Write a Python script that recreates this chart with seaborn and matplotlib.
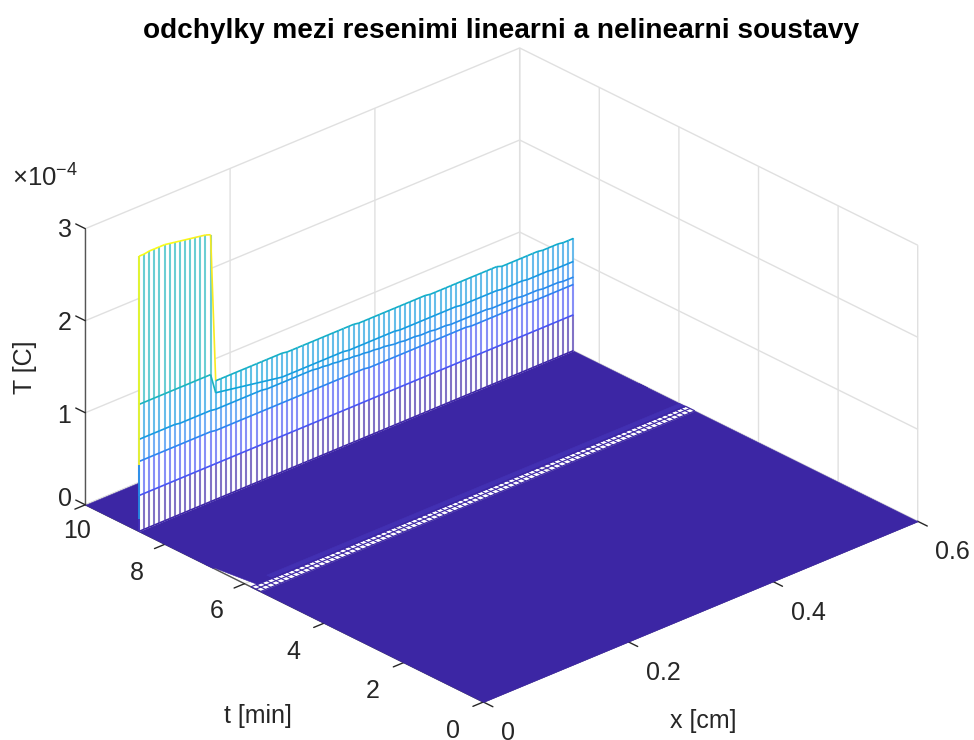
#!/usr/bin/python
"""Deviation between the linear and nonlinear solution, mesh view."""
import numpy as np
import matplotlib
matplotlib.use('Agg')
import matplotlib.pyplot as plt
from matplotlib.transforms import ScaledTranslation
import seaborn as sns
from mpl_toolkits.mplot3d.art3d import Line3DCollection

sns.set_theme(style='white')
plt.rcParams['font.family'] = ['Liberation Sans', 'DejaVu Sans']
plt.rcParams['mathtext.default'] = 'regular'

TEXT = '#262626'
GRID = '#e0e0e0'
FLOOR = '#3c26a4'
BAND = '#4230b2'

# axis ticks
x_ticks = [0, 0.2, 0.4, 0.6]
x_ticklabels = ['0', '0.2', '0.4', '0.6']
t_ticks = [0, 2, 4, 6, 8, 10]
z_ticks = [0, 1, 2, 3]

# mesh columns (86 vertical lines in the wall)
x_mesh = np.linspace(0, 0.6, 86)

# wall of the mesh at one time level, z in units of 1e-4
t_wall = 8.65
row_1 = [0.39] * 86
row_2 = [0.76] * 15 + [0.75] * 30 + [0.74] * 20 + [0.73] * 12 + [0.72] * 9
row_3 = ([1.00] * 8 + [0.99] * 7 + [0.98] * 10 + [0.97] * 10
         + [0.96, 0.96, 0.95, 0.95, 0.94, 0.94, 0.93, 0.93, 0.92, 0.92, 0.91, 0.91, 0.90, 0.90, 0.89, 0.88]
         + [0.88, 0.87, 0.87, 0.87, 0.86, 0.86, 0.86, 0.85, 0.85, 0.85, 0.84, 0.84]
         + [0.84] * 6 + [0.83] * 6 + [0.82] * 4 + [0.81] * 4 + [0.80] * 3)
row_4 = ([1.38] * 15
         + [1.16, 1.15, 1.14, 1.13, 1.12, 1.11, 1.10, 1.09, 1.08, 1.07, 1.06, 1.05, 1.04, 1.03]
         + [1.03] * 12 + [1.02] * 10 + [1.01] * 12 + [1.00] * 8 + [0.99] * 5 + [0.98] * 5 + [0.97] * 5)
row_top = ([2.99, 2.99, 3.00, 3.00, 3.00, 3.00, 2.99, 2.98, 2.97, 2.96, 2.95, 2.94, 2.93, 2.92, 2.90]
           + [1.29] * 14 + [1.28] * 14 + [1.27] * 14 + [1.26] * 14 + [1.24] * 8 + [1.23] * 4 + [1.22] * 3)
# side of the wall at x=0: heights and the level that colours each piece
side_z = [0.0, 0.13, 0.72, 2.99]
side_level = [0.1, 0.9, 3.0]

# flat parts of the surface
floor_low_t = [0.0, 5.6]
floor_mid_t = [5.84, 7.0]
floor_mid_x0 = [0.009, 0.0]
floor_high_t = [6.8, 10.0]
band_t = [5.84, 6.0]
stripe_t = [5.6, 5.72, 5.84]

parula = sns.blend_palette(['#3e26a8', '#4852f4', '#2c85f0', '#0aa5d8', '#22bcb0',
                            '#51c28c', '#adbe5c', '#f6b93f', '#f9fb15'], as_cmap=True)


# ----------------------------------------------------------------------------
def flat(ax, x0, x1, t, color, zorder):
    """Draw a flat piece of the surface at z=0."""
    X = np.column_stack((x0, x1))
    T = np.column_stack((t, t))
    ax.plot_surface(X, T, np.zeros_like(X), color=color, edgecolor=color, linewidth=0.4,
                    shade=False, zorder=zorder)


# ----------------------------------------------------------------------------
def wall(ax):
    """Draw the mesh wall, edges coloured by the lower vertex as in a mesh."""
    z = np.vstack((np.zeros(86), row_1, row_2, row_3, row_4, row_top))
    ax.fill_between(x_mesh, t_wall, 0 * x_mesh, x_mesh, t_wall, z[-1], color='white',
                    shade=False, linewidth=0, zorder=3)
    segs, levels = [], []
    for k in range(5):
        for j in range(86):
            segs.append([(x_mesh[j], t_wall, z[k, j]), (x_mesh[j], t_wall, z[k + 1, j])])
            levels.append(z[k, j])
    upright = Line3DCollection(segs, cmap=parula, linewidths=1.5, alpha=0.65, zorder=4)
    upright.set_array(np.array(levels))
    upright.set_clim(0, 3)
    ax.add_collection3d(upright)

    segs, levels = [], []
    for k in range(6):
        for j in range(85):
            segs.append([(x_mesh[j], t_wall, z[k, j]), (x_mesh[j + 1], t_wall, z[k, j + 1])])
            levels.append(z[k, j])
    for k in range(3):
        segs.append([(0, t_wall, side_z[k]), (0, t_wall, side_z[k + 1])])
        levels.append(side_level[k])
    rows = Line3DCollection(segs, cmap=parula, linewidths=1.2, zorder=5)
    rows.set_array(np.array(levels))
    rows.set_clim(0, 3)
    ax.add_collection3d(rows)


# ----------------------------------------------------------------------------
def stripe(ax):
    """Draw the fine mesh strip, white shows between its edges."""
    segs = []
    for t in stripe_t:
        segs.append([(x_mesh[0], t, 0), (x_mesh[-1], t, 0)])
    for x in x_mesh:
        segs.append([(x, stripe_t[0], 0), (x, stripe_t[-1], 0)])
    ax.add_collection3d(Line3DCollection(segs, colors=FLOOR, linewidths=0.8, zorder=2))


# ----------------------------------------------------------------------------
def nudge(fig, artist, dx, dy):
    """Shift a text by some pixels, dy counted downwards."""
    # Axis3D puts transData back on its texts at every draw, so wrap the getter
    shift = ScaledTranslation(dx / fig.dpi, -dy / fig.dpi, fig.dpi_scale_trans)
    artist.get_transform = lambda: artist._transform + shift


fig = plt.figure(figsize=(9.74, 7.40), dpi=100)
w = 960
ax = fig.add_axes([(501.5 - 0.5135 * w) / 974, (365.0 - 0.5135 * w) / 740, w / 974, w / 740],
                  projection='3d', computed_zorder=False, proj_type='ortho')
ax.view_init(elev=27, azim=-132.5)
ax.set_box_aspect((1, 1, 0.526), zoom=863 / w)

flat(ax, [0.0, 0.0], [0.6, 0.6], floor_low_t, FLOOR, 1)
flat(ax, floor_mid_x0, [0.6, 0.6], floor_mid_t, FLOOR, 1)
flat(ax, [0.0, 0.0], [0.6, 0.6], floor_high_t, FLOOR, 1)
flat(ax, [0.03, 0.03], [0.6, 0.6], band_t, BAND, 1.5)
stripe(ax)
wall(ax)

ax.set_xlim(0, 0.6)
ax.set_ylim(0, 10)
ax.set_zlim(0, 3)
ax.set_xticks(x_ticks, x_ticklabels)
ax.set_yticks(t_ticks)
ax.set_zticks(z_ticks)
ax.tick_params(colors=TEXT, labelsize=18)
ax.tick_params(axis='x', pad=8)
ax.tick_params(axis='y', pad=15)
ax.tick_params(axis='z', pad=-22)
# z ticks of the reference run along the time axis
ax.zaxis._get_tickdir = lambda pos: 1
for axis in (ax.xaxis, ax.yaxis, ax.zaxis):
    axis.set_pane_color((1, 1, 1, 1))
    axis.pane.set_edgecolor('white')
    axis.line.set_color('#555555')
    axis.line.set_linewidth(1.0)
    axis._axinfo['grid']['color'] = GRID
    axis._axinfo['grid']['linewidth'] = 1.0
    axis._axinfo['tick']['inward_factor'] = 0.3
    axis._axinfo['tick']['outward_factor'] = 0
    axis._axinfo['tick']['linewidth'] = {True: 1.0, False: 0.5}
    axis._axinfo['tick']['color'] = '#555555'
    axis.set_rotate_label(False)
ax.zaxis._axinfo['tick']['inward_factor'] = 0
ax.zaxis._axinfo['tick']['outward_factor'] = 0.3

for tick in ax.xaxis.get_major_ticks():
    tick.label1.set_ha('left')
    nudge(fig, tick.label1, 0, -2)
y_nudges = [(-3, -12), (-3, -13), (-3, -12), (0, -14), (0, -12), (20, -15)]
for tick, d in zip(ax.yaxis.get_major_ticks(), y_nudges):
    nudge(fig, tick.label1, d[0], d[1])
z_nudges = [(-53, -18), (-54, -9), (-53, -10), (-53, -11)]
for tick, d in zip(ax.zaxis.get_major_ticks(), z_nudges):
    nudge(fig, tick.label1, d[0], d[1])

ax.set_xlabel('x [cm]', fontsize=18, color=TEXT, labelpad=18)
ax.set_ylabel('t [min]', fontsize=18, color=TEXT, labelpad=18)
ax.set_zlabel('T [C]', fontsize=18, color=TEXT, labelpad=18, rotation=90)
nudge(fig, ax.xaxis.label, -40, 58)
nudge(fig, ax.yaxis.label, 21, 63)
nudge(fig, ax.zaxis.label, 30, 2)
fig.text(12 / 974, 1 - 178 / 740, r'$\times 10^{-4}$', fontsize=18.5, color=TEXT, ha='left', va='center')
fig.text(501 / 974, 1 - 31 / 740, 'odchylky mezi resenimi linearni a nelinearni soustavy',
         fontsize=20.2, fontweight='bold', color='black', ha='center', va='center')

fig.savefig('out.png', dpi=100)
